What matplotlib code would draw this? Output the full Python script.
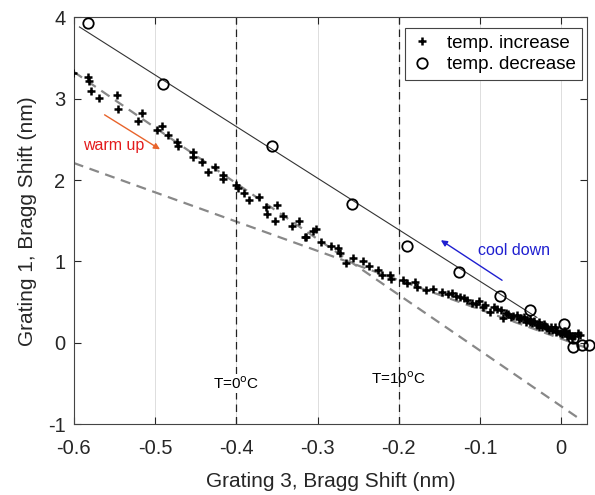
import numpy as np
from matplotlib import pyplot as plt

plt.rcParams['font.family'] = ['Liberation Sans', 'DejaVu Sans']

# temperature increase (crosses)
inc_x = [-0.601, -0.583, -0.581, -0.579, -0.569, -0.547, -0.546, -0.516, -0.521, -0.497,
         -0.491, -0.484, -0.473, -0.472, -0.453, -0.453, -0.442, -0.435, -0.426, -0.416,
         -0.416, -0.400, -0.398, -0.391, -0.384, -0.372, -0.363, -0.362, -0.350, -0.352,
         -0.342, -0.331, -0.323, -0.314, -0.305, -0.302, -0.315, -0.296, -0.283, -0.275,
         -0.272, -0.265, -0.256, -0.244, -0.237, -0.226, -0.221, -0.211, -0.210, -0.195,
         -0.190, -0.180, -0.178, -0.166, -0.158, -0.147, -0.135, -0.125, -0.116, -0.110,
         -0.101, -0.094, -0.088, -0.079, -0.074, -0.072, -0.065, -0.060, -0.055, -0.050,
         -0.046, -0.042, -0.039, -0.036, -0.033, -0.030, -0.027, -0.024, -0.021, -0.018,
         -0.015, -0.011, -0.008, -0.005, -0.002, 0.001, 0.004, 0.007, 0.010, 0.013,
         0.016, 0.020, 0.023, -0.140, -0.130, -0.120, -0.105, -0.096, -0.083, -0.068,
         -0.062, -0.052, -0.044, -0.038, -0.028, -0.020, -0.013, -0.007, 0.003, 0.009]
inc_y = [3.32, 3.27, 3.22, 3.10, 3.01, 3.05, 2.87, 2.82, 2.72, 2.62,
         2.66, 2.55, 2.47, 2.42, 2.35, 2.28, 2.22, 2.10, 2.16, 2.06,
         2.01, 1.94, 1.90, 1.84, 1.76, 1.79, 1.67, 1.58, 1.69, 1.50,
         1.56, 1.44, 1.50, 1.30, 1.37, 1.40, 1.30, 1.24, 1.19, 1.16,
         1.10, 0.98, 1.04, 1.00, 0.94, 0.90, 0.83, 0.83, 0.78, 0.77,
         0.73, 0.75, 0.69, 0.65, 0.66, 0.62, 0.61, 0.56, 0.53, 0.49,
         0.51, 0.47, 0.38, 0.42, 0.40, 0.30, 0.36, 0.33, 0.34, 0.30,
         0.32, 0.28, 0.26, 0.24, 0.27, 0.22, 0.20, 0.20, 0.23, 0.18,
         0.16, 0.16, 0.19, 0.14, 0.12, 0.11, 0.14, 0.08, 0.10, 0.06,
         0.08, 0.12, 0.10, 0.60, 0.58, 0.55, 0.48, 0.44, 0.44, 0.37,
         0.32, 0.29, 0.25, 0.29, 0.25, 0.21, 0.19, 0.13, 0.15, 0.12]

# temperature decrease (circles)
dec_x = [-0.582, -0.490, -0.356, -0.258, -0.190, -0.126, -0.075, -0.038, 0.003, 0.015, 0.014, 0.025, 0.034]
dec_y = [3.93, 3.18, 2.42, 1.71, 1.19, 0.87, 0.58, 0.40, 0.23, 0.06, -0.05, -0.03, -0.03]

# linear fits (x range and coefficients)
fit_dec_x = [-0.593, -0.03]
fit_dec_c = (0.122, -6.34)       # intercept, slope
fit_a_x = [-0.6, 0.025]
fit_a_c = (-0.78, -6.85)
fit_b_x = [-0.6, 0.03]
fit_b_c = (0.05, -3.6)

temp_x = [-0.4, -0.2]
temp_lbl = ['T=0$^{\\rm o}$C', 'T=10$^{\\rm o}$C']

fig = plt.figure(figsize=(5.95, 4.95), dpi=100)
ax = fig.add_axes([0.124, 0.143, 0.863, 0.822])

for xs, (a, b) in [(fit_a_x, fit_a_c), (fit_b_x, fit_b_c)]:
    xs = np.array(xs)
    ax.plot(xs, a + b * xs, color='#888888', lw=1.6, ls=(0, (4.5, 3)), zorder=2)
xs = np.array(fit_dec_x)
ax.plot(xs, fit_dec_c[0] + fit_dec_c[1] * xs, color='#333333', lw=0.8, zorder=2)

for tx in temp_x:
    ax.axvline(tx, color='#222222', lw=0.9, ls=(0, (6, 4)), zorder=2.5)
ax.text(-0.4, -0.5, temp_lbl[0], fontsize=11, ha='center', va='center',
        bbox=dict(facecolor='white', edgecolor='none', pad=1), zorder=3)
ax.text(-0.2, -0.44, temp_lbl[1], fontsize=11, ha='center', va='center', zorder=3)

ax.plot(inc_x, inc_y, ls='none', marker='+', ms=5.5, mew=1.8, color='black',
        label='temp. increase', zorder=4)
ax.plot(dec_x, dec_y, ls='none', marker='o', ms=7.5, mew=1.3, mfc='none',
        mec='black', label='temp. decrease', zorder=5, clip_on=False)

ax.annotate('', xy=(-0.491, 2.36), xytext=(-0.565, 2.82),
            arrowprops=dict(arrowstyle='-|>', color='#e8642c', lw=1, mutation_scale=9))
ax.text(-0.588, 2.43, 'warm up', color='#e31a1c', fontsize=11.5, va='center')
ax.annotate('', xy=(-0.151, 1.28), xytext=(-0.070, 0.75),
            arrowprops=dict(arrowstyle='-|>', color='#1f1fd0', lw=1, mutation_scale=9))
ax.text(-0.103, 1.13, 'cool down', color='#1f1fd0', fontsize=11.5, va='center')

ax.set_xlim(-0.6, 0.032)
ax.set_ylim(-1, 4)
ax.set_xticks([-0.6, -0.5, -0.4, -0.3, -0.2, -0.1, 0])
ax.set_xticklabels(['-0.6', '-0.5', '-0.4', '-0.3', '-0.2', '-0.1', '0'])
ax.set_yticks([-1, 0, 1, 2, 3, 4])
ax.set_yticklabels(['-1', '0', '1', '2', '3', '4'])
ax.grid(axis='x', color='#dddddd', lw=0.7)
ax.set_axisbelow(True)
ax.tick_params(direction='in', top=True, right=True, length=5, width=0.8,
               labelsize=14.5, colors='#262626')
ax.tick_params(axis='x', pad=11)
ax.tick_params(axis='y', pad=6)
for s in ax.spines.values():
    s.set_color('#444444')
    s.set_linewidth(0.8)
ax.set_xlabel('Grating 3, Bragg Shift (nm)', fontsize=15, color='#262626', labelpad=10)
ax.set_ylabel('Grating 1, Bragg Shift (nm)', fontsize=15, color='#262626', labelpad=8)

leg = ax.legend(loc='upper right', bbox_to_anchor=(0.99, 0.974), borderaxespad=0,
                fontsize=13.5, fancybox=False, edgecolor='#444444', framealpha=1,
                handlelength=1.2, handletextpad=0.7, borderpad=0.35, labelspacing=0.25)
leg.get_frame().set_linewidth(0.8)

fig.savefig('out.png', dpi=100)
